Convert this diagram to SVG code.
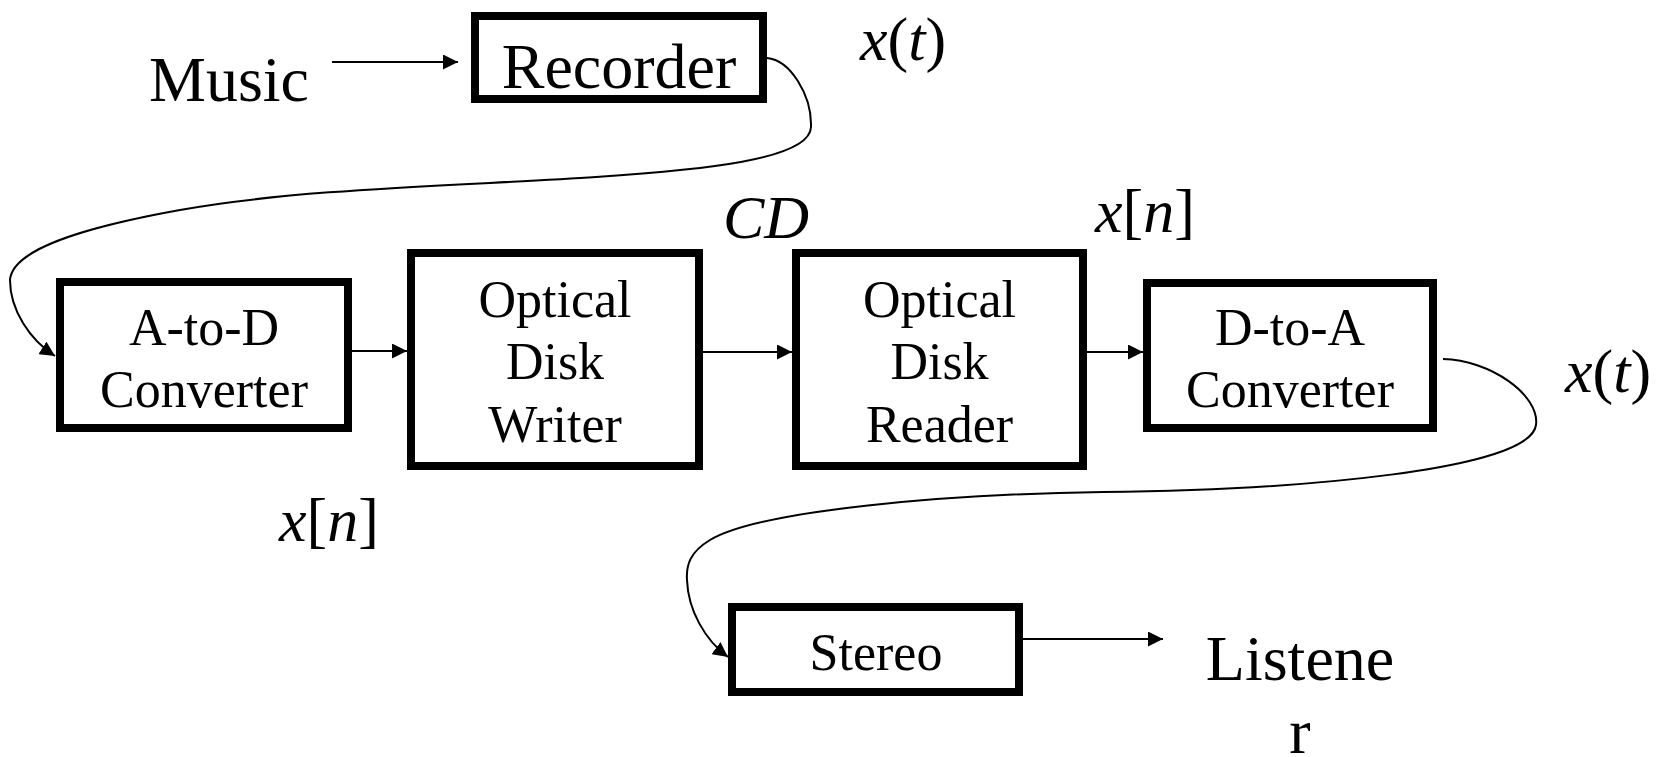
<svg xmlns="http://www.w3.org/2000/svg" width="1664" height="757" viewBox="0 0 1664 757">
<style>
.box{fill:#fff;stroke:#000;stroke-width:8}
.lbl{font-family:"Liberation Serif","Times New Roman",serif;font-size:52px;fill:#000;text-anchor:middle}
.big{font-family:"Liberation Serif","Times New Roman",serif;font-size:64px;fill:#000}
.math{font-family:"Liberation Serif","Times New Roman",serif;font-size:62px;fill:#000}
.it{font-style:italic}
.wire{fill:none;stroke:#000;stroke-width:2;marker-end:url(#ah)}
</style>
<defs>
<marker id="ah" markerUnits="userSpaceOnUse" markerWidth="15" markerHeight="15" refX="15" refY="7.5" orient="auto" viewBox="0 0 15 15">
<path d="M0,0 L15,7.5 L0,15 z" fill="#000"/>
</marker>
</defs>
<rect width="1664" height="757" fill="#fff"/>
<g id="connectors">
<path class="wire" d="M332,62 L458,62"/>
<path class="wire" d="M767,58 C790,60 812,95 811,127 C810,160 700,170 596,177 C480,185 300,188 180,210 C80,228 12,250 10,280 C10,310 30,340 55,356"/>
<path class="wire" d="M352,351 L407,351"/>
<path class="wire" d="M703,352 L792,352"/>
<path class="wire" d="M1087,352 L1143,352"/>
<path class="wire" d="M1443,359 C1490,360 1540,395 1536,425 C1530,470 1300,490 1103,492 C950,494 760,510 710,540 C690,552 686,565 687,580 C688,610 705,640 728,657"/>
<path class="wire" d="M1023,639 L1163,639"/>
</g>
<g id="music"><text class="big" x="149" y="101">Music</text></g>
<g id="recorder">
<rect class="box" x="475" y="16" width="288" height="83"/>
<text class="big" x="619" y="88" text-anchor="middle">Recorder</text>
</g>
<g id="atod">
<rect class="box" x="60" y="282" width="288" height="146"/>
<text class="lbl" x="204" y="345">A-to-D</text>
<text class="lbl" x="204" y="407">Converter</text>
</g>
<g id="odw">
<rect class="box" x="411" y="253" width="288" height="213"/>
<text class="lbl" x="555" y="317">Optical</text>
<text class="lbl" x="555" y="379">Disk</text>
<text class="lbl" x="555" y="442">Writer</text>
</g>
<g id="odr">
<rect class="box" x="796" y="253" width="287" height="213"/>
<text class="lbl" x="939.5" y="317">Optical</text>
<text class="lbl" x="939.5" y="379">Disk</text>
<text class="lbl" x="939.5" y="442">Reader</text>
</g>
<g id="dtoa">
<rect class="box" x="1147" y="283" width="286" height="145"/>
<text class="lbl" x="1290" y="345">D-to-A</text>
<text class="lbl" x="1290" y="407">Converter</text>
</g>
<g id="stereo">
<rect class="box" x="732" y="607" width="287" height="85"/>
<text class="lbl" x="876" y="670">Stereo</text>
</g>
<g id="listener">
<text class="big" x="1300" y="680" text-anchor="middle">Listene</text>
<text class="big" x="1300" y="753" text-anchor="middle">r</text>
</g>
<g id="labels">
<text class="math" x="860" y="60"><tspan class="it">x</tspan>(<tspan class="it">t</tspan>)</text>
<text class="math it" x="723" y="238">CD</text>
<text class="math" x="1095" y="232"><tspan class="it">x</tspan>[<tspan class="it">n</tspan>]</text>
<text class="math" x="279" y="541"><tspan class="it">x</tspan>[<tspan class="it">n</tspan>]</text>
<text class="math" x="1565" y="392"><tspan class="it">x</tspan>(<tspan class="it">t</tspan>)</text>
</g>
</svg>
